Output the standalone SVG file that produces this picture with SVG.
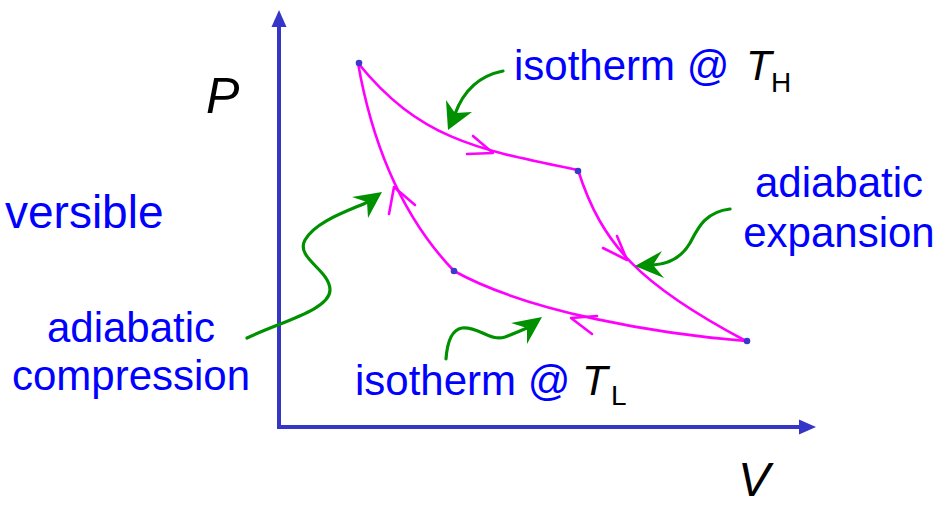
<svg xmlns="http://www.w3.org/2000/svg" width="948" height="506" viewBox="0 0 948 506">
<style>
.ax{stroke:#3535c8;stroke-width:4;fill:none}
.axh{fill:#3535c8}
.cyc{stroke:#ff00ff;stroke-width:2.6;fill:none;stroke-linecap:round;stroke-linejoin:round}
.dot{fill:#3a3ac8}
.gr{stroke:#009100;stroke-width:3.2;fill:none;stroke-linecap:round}
.grh{fill:#009100}
.lbl{font-family:"Liberation Sans",Arial,sans-serif;font-size:42px;fill:#0000ff}
.var{font-family:"Liberation Sans",Arial,sans-serif;font-style:italic;fill:#000}
.sub{font-family:"Liberation Sans",Arial,sans-serif;font-size:28px;fill:#000}
</style>
<rect width="948" height="506" fill="#fff"/>
<g id="axes">
<line class="ax" x1="279" y1="429" x2="279" y2="24"/>
<polygon class="axh" points="279,10 271.5,27 286.5,27"/>
<line class="ax" x1="277" y1="427" x2="801" y2="427"/>
<polygon class="axh" points="816,427 799,419.5 799,434.5"/>
<text class="var" x="206" y="113" style="font-size:50px">P</text>
<text class="var" x="738" y="496" style="font-size:48px">V</text>
</g>
<g id="connectors">
<path class="cyc" d="M358,63 C420,140 480,150 578,170"/>
<path class="cyc" d="M578,170 C602,245 640,285 746,341"/>
<path class="cyc" d="M746,341 C660,334 530,313 454,271"/>
<path class="cyc" d="M454,271 C410,225 375,160 358,63"/>
<polyline class="cyc" points="473,136 493,153 467,154"/>
<polyline class="cyc" points="617,236 627,260 603,248"/>
<polyline class="cyc" points="597,316 571,318 592,334"/>
<polyline class="cyc" points="389,214 394,187 415,205"/>
<path class="gr" d="M503,71 C478,76 463,92 455,114"/>
<polygon class="grh" points="448,130 446,100 455,113 472,112"/>
<path class="gr" d="M730,209 C705,212 698,228 690,243 C682,257 668,264 653,265"/>
<polygon class="grh" points="635,266 662,251 653,265 664,278"/>
<path class="gr" d="M247,338 C280,322 330,310 330,290 C330,270 295,258 305,240 C315,222 345,212 368,202"/>
<polygon class="grh" points="382,192 352,197 367,202 368,218"/>
<path class="gr" d="M446,359 C447,345 450,330 462,328 C478,326 490,342 505,337 C513,334 520,331 527,328"/>
<polygon class="grh" points="542,317 511,323 527,328 527,344"/>
</g>
<g id="states">
<circle class="dot" cx="359" cy="63" r="3.3"/>
<circle class="dot" cx="578" cy="171" r="3.3"/>
<circle class="dot" cx="747" cy="341" r="3.3"/>
<circle class="dot" cx="454" cy="271" r="3.3"/>
</g>
<g id="label-isotherm-TH">
<text class="lbl" x="514" y="80">isotherm @</text>
<text class="var" x="746" y="80" style="font-size:42px">T</text>
<text class="sub" x="771" y="92">H</text>
</g>
<g id="label-isotherm-TL">
<text class="lbl" x="355" y="395">isotherm @</text>
<text class="var" x="582" y="395" style="font-size:42px">T</text>
<text class="sub" x="611" y="405">L</text>
</g>
<g id="label-adiabatic-expansion">
<text class="lbl" x="839" y="197" text-anchor="middle">adiabatic</text>
<text class="lbl" x="839" y="247" text-anchor="middle">expansion</text>
</g>
<g id="label-adiabatic-compression">
<text class="lbl" x="131" y="342" text-anchor="middle">adiabatic</text>
<text class="lbl" x="131" y="390" text-anchor="middle">compression</text>
</g>
<g id="label-reversible">
<text class="lbl" x="5" y="228" style="font-size:46px">versible</text>
</g>
</svg>
